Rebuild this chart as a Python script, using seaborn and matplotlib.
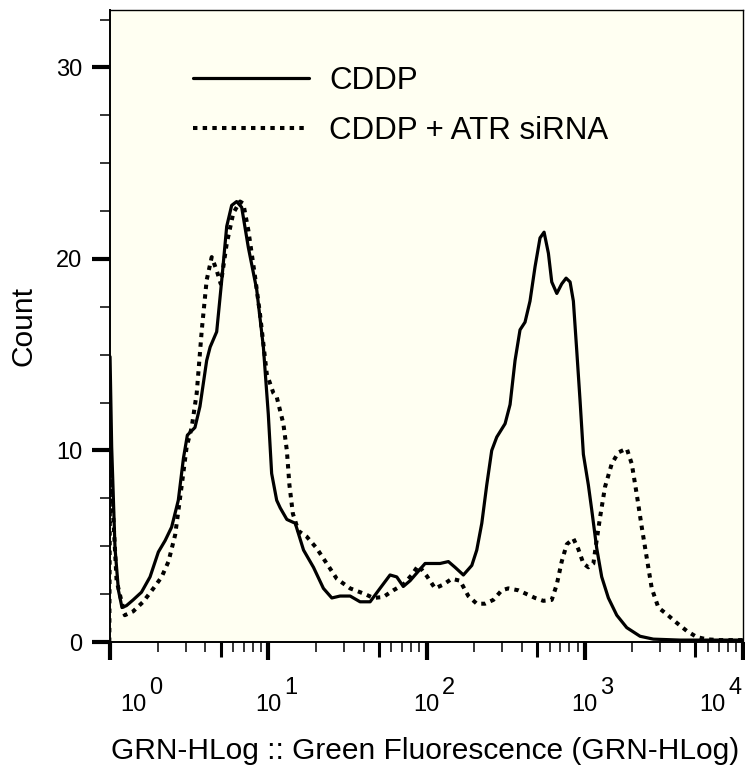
import numpy as np
import pandas as pd
import seaborn as sns
import matplotlib.pyplot as plt
from matplotlib.lines import Line2D

# Histogram traces (fluorescence, count)
cddp_fl = [1.0, 1.024, 1.075, 1.13, 1.19, 1.27, 1.40, 1.58, 1.79, 2.02,
           2.23, 2.45, 2.70, 2.91, 3.08, 3.44, 3.70, 4.08, 4.29, 4.72,
           5.08, 5.46, 5.87, 6.31, 6.79, 7.48, 8.45, 9.31, 10.0, 10.5,
           11.3, 11.9, 13.1, 14.8, 16.7, 19.3, 22.3, 25.2, 28.4, 32.9,
           38.0, 44.0, 50.8, 58.8, 64.8, 71.3, 78.7, 86.7, 97.9, 121.7,
           137.4, 151.4, 170.9, 193.2, 207.6, 223.4, 240.1, 258.1, 277.7, 313.5,
           337.1, 362.4, 389.6, 419.0, 450.5, 484.9, 521.2, 552.9, 588.8, 618.2,
           665.3, 714.5, 761.6, 807.2, 846.8, 889.6, 933.3, 979.5, 1053, 1106,
           1189, 1279, 1409, 1592, 1841, 2234, 2711, 4000, 10000]
cddp_count = [14.9, 10.2, 4.9, 2.7, 1.8, 1.9, 2.2, 2.6, 3.4, 4.7,
              5.3, 6.0, 7.4, 9.6, 10.8, 11.2, 12.3, 14.7, 15.4, 16.2,
              18.9, 21.7, 22.8, 23.0, 22.7, 20.6, 18.4, 15.4, 11.9, 8.8,
              7.4, 7.0, 6.4, 6.2, 4.8, 3.9, 2.8, 2.3, 2.4, 2.4,
              2.1, 2.1, 2.8, 3.5, 3.4, 2.9, 3.2, 3.6, 4.1, 4.1,
              4.2, 3.9, 3.5, 4.0, 4.8, 6.2, 8.2, 10.0, 10.7, 11.4,
              12.4, 14.7, 16.3, 16.7, 17.8, 19.6, 21.1, 21.4, 20.3, 18.8,
              18.2, 18.7, 19.0, 18.8, 17.8, 15.2, 12.6, 9.8, 8.2, 6.9,
              4.9, 3.4, 2.3, 1.4, 0.75, 0.3, 0.15, 0.1, 0.1]

atr_fl = [0.99, 1.0, 1.10, 1.24, 1.40, 1.62, 1.88, 2.12, 2.34, 2.58,
          2.84, 3.05, 3.28, 3.53, 3.80, 4.08, 4.39, 4.72, 5.01, 5.46,
          6.01, 6.63, 6.95, 7.48, 8.24, 8.87, 9.78, 10.77, 11.3, 12.45,
          13.1, 13.6, 14.3, 15.5, 17.5, 20.2, 23.4, 27.1, 32.9, 40.9,
          46.1, 53.3, 61.7, 71.3, 80.6, 88.8, 100.3, 113.2, 127.7, 144.3,
          162.8, 183.7, 207.6, 234.3, 264.3, 298.6, 328.8, 380.2, 429.7, 485,
          547, 618, 665, 714.5, 769, 847, 910, 979.5, 1053, 1133,
          1178, 1248, 1342, 1479, 1630, 1841, 1981, 2130, 2290, 2462,
          2649, 2916, 3296, 3811, 4406, 5096, 5899, 7161, 10000]
atr_count = [0.0, 9.8, 3.2, 1.4, 1.6, 2.1, 2.8, 3.4, 4.2, 5.6,
             8.2, 10.2, 11.2, 13.0, 16.3, 18.9, 20.1, 19.4, 18.7, 20.8,
             22.4, 23.0, 22.9, 21.5, 19.1, 17.1, 14.0, 13.0, 12.8, 11.4,
             10.0, 8.2, 6.7, 5.8, 5.5, 4.9, 4.1, 3.3, 2.8, 2.5,
             2.3, 2.35, 2.7, 3.0, 3.5, 4.0, 3.45, 2.8, 3.0, 3.3,
             3.2, 2.4, 2.0, 2.0, 2.2, 2.7, 2.8, 2.7, 2.5, 2.3,
             2.15, 2.2, 3.0, 4.2, 5.1, 5.4, 4.85, 4.1, 3.9, 4.1,
             5.1, 6.5, 8.1, 9.3, 9.9, 10.1, 9.3, 7.7, 6.0, 4.4,
             2.8, 1.8, 1.45, 1.0, 0.58, 0.26, 0.14, 0.1, 0.1]

labels = ['CDDP', 'CDDP + ATR siRNA']
x_decades = [1, 10, 100, 1000, 10000]
x_mid = [5, 50, 500, 5000]
y_major = [0, 10, 20, 30]
y_minor = [2.5, 5, 7.5, 12.5, 15, 17.5, 22.5, 25, 27.5, 32.5]

df_a = pd.DataFrame({'fl': cddp_fl, 'count': cddp_count})
df_b = pd.DataFrame({'fl': atr_fl, 'count': atr_count})

sns.set_style('ticks')
plt.rcParams['font.family'] = ['Liberation Sans', 'DejaVu Sans']
plt.rcParams['text.color'] = 'black'
plt.rcParams['axes.labelcolor'] = 'black'
plt.rcParams['xtick.color'] = 'black'
plt.rcParams['ytick.color'] = 'black'

fig = plt.figure(figsize=(7.45, 7.78), dpi=100)
ax = fig.add_axes([0.1477, 0.1748, 0.8497, 0.8123])
ax.set_facecolor('#fffff2')

dots = (0, (1.1, 1.3))
sns.lineplot(data=df_a, x='fl', y='count', ax=ax, color='black', lw=2.3,
             sort=False, estimator=None)
sns.lineplot(data=df_b, x='fl', y='count', ax=ax, color='black', lw=2.9,
             sort=False, estimator=None, linestyle=dots)

ax.set_xscale('log')
ax.set_xlim(1, 10000)
ax.set_ylim(0, 33)

for s in ax.spines.values():
    s.set_linewidth(1.0)
    s.set_color('black')
ax.spines['left'].set_linewidth(1.4)
ax.spines['bottom'].set_linewidth(1.4)

# y axis ticks
ax.set_yticks(y_major)
ax.set_yticks(y_minor, minor=True)
ax.tick_params(axis='y', which='major', direction='out', length=13, width=3,
               labelsize=17, pad=7, colors='black')
ax.tick_params(axis='y', which='minor', direction='out', length=7, width=1.1,
               color='black')

# x axis ticks, labels drawn as "10" with a full-size exponent
ax.set_xticks(x_decades)
ax.set_xticklabels([''] * len(x_decades))
minor_x = [d * k for d in x_decades[:-1] for k in (2, 3, 4, 6, 7, 8, 9)]
ax.set_xticks(minor_x, minor=True)
ax.set_xticklabels([''] * len(minor_x), minor=True)
ax.tick_params(axis='x', which='major', direction='out', length=13, width=3,
               color='black')
ax.tick_params(axis='x', which='minor', direction='out', length=7, width=1.1,
               color='black')

sec = ax.secondary_xaxis('bottom')
sec.set_xticks(x_mid)
sec.set_xticklabels([''] * len(x_mid))
sec.tick_params(axis='x', which='major', direction='out', length=10.5,
                width=2.2, color='black')
sec.tick_params(axis='x', which='minor', length=0)
sec.spines['bottom'].set_visible(False)

label_shift = [17, 0, 0, 0, -22]
for i, d in enumerate(x_decades):
    ax.annotate('10', xy=(d, 0), xycoords=('data', 'axes fraction'),
                xytext=(label_shift[i], -45.5), textcoords='offset points',
                ha='center', va='center', fontsize=17, color='black')
    ax.annotate(str(i), xy=(d, 0), xycoords=('data', 'axes fraction'),
                xytext=(label_shift[i] + 16, -33), textcoords='offset points',
                ha='center', va='center', fontsize=17, color='black')

ax.set_xlabel('GRN-HLog :: Green Fluorescence (GRN-HLog)', fontsize=21.5)
ax.xaxis.set_label_coords(0.4976, -0.15)
ax.xaxis.label.set_va('top')
ax.set_ylabel('Count', fontsize=21.5)
ax.yaxis.set_label_coords(-0.115, 0.5)

handles = [Line2D([], [], color='black', lw=2.3),
           Line2D([], [], color='black', lw=2.9, linestyle=dots)]
ax.legend(handles, labels, loc='upper left', bbox_to_anchor=(0.131, 0.911),
          frameon=False, fontsize=22.5, handlelength=3.7, handletextpad=0.65,
          labelspacing=0.63, borderpad=0, borderaxespad=0)

fig.savefig('out.png', dpi=100)
